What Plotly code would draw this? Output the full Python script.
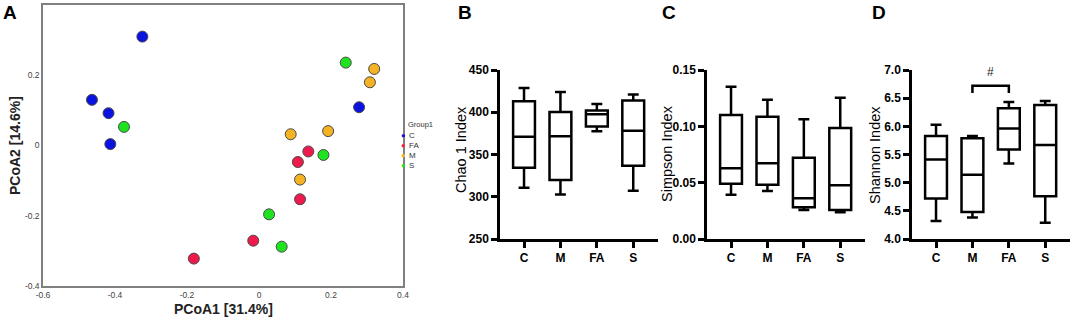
import plotly.graph_objects as go

W, H = 1072, 318

# ---------------- Panel A data (PCoA) ----------------
group_names = ["C", "FA", "M", "S"]
group_colors = ["#0a12e0", "#ee1a4c", "#f5b223", "#1fe31f"]
c_x = [-0.324, -0.464, -0.418, -0.413, 0.278]
c_y = [0.310, 0.130, 0.092, 0.004, 0.109]
fa_x = [-0.181, -0.016, 0.114, 0.108, 0.137]
fa_y = [-0.322, -0.271, -0.153, -0.047, -0.017]
m_x = [0.088, 0.192, 0.114, 0.320, 0.308]
m_y = [0.032, 0.041, -0.097, 0.218, 0.180]
s_x = [-0.375, 0.241, 0.179, 0.028, 0.063]
s_y = [0.053, 0.236, -0.027, -0.196, -0.288]
pcoa_ticks = [-0.6, -0.4, -0.2, 0, 0.2, 0.4]
pcoa_ticktext = ["-0.6", "-0.4", "-0.2", "0", "0.2", "0.4"]

# ---------------- Box panels data ----------------
categories = ["C", "M", "FA", "S"]
cat_pos = [0, 1, 2, 3]

chao_min = [310.6, 302.8, 377.6, 307.0]
chao_q1 = [334.3, 319.7, 383.0, 336.6]
chao_med = [370.9, 371.7, 397.5, 378.0]
chao_q3 = [413.0, 400.4, 402.0, 414.0]
chao_max = [428.7, 424.0, 409.8, 421.0]

simpson_min = [0.0393, 0.0426, 0.0257, 0.0237]
simpson_q1 = [0.0491, 0.0482, 0.0281, 0.0257]
simpson_med = [0.0627, 0.0672, 0.0361, 0.0476]
simpson_q3 = [0.1101, 0.1086, 0.0722, 0.0985]
simpson_max = [0.1352, 0.1237, 0.1062, 0.1254]

shannon_min = [4.32, 4.38, 5.34, 4.29]
shannon_q1 = [4.72, 4.48, 5.59, 4.76]
shannon_med = [5.41, 5.14, 5.96, 5.67]
shannon_q3 = [5.83, 5.79, 6.32, 6.38]
shannon_max = [6.03, 5.83, 6.43, 6.45]

chao_ticks = [250, 300, 350, 400, 450]
simpson_ticks = [0.00, 0.05, 0.10, 0.15]
shannon_ticks = [4.0, 4.5, 5.0, 5.5, 6.0, 6.5, 7.0]

# significance bracket (M vs FA)
sig_from, sig_to = 1, 2
sig_low, sig_high = 6.59, 6.72
sig_label_y = 6.96


def px(x):
    return x / W


def py(y):
    return 1 - y / H


FONT = "Liberation Sans, Arial, sans-serif"
fig = go.Figure()

# Panel A scatter
for name, col, xs, ys in zip(group_names, group_colors,
                             [c_x, fa_x, m_x, s_x], [c_y, fa_y, m_y, s_y]):
    fig.add_trace(go.Scatter(
        x=xs, y=ys, mode="markers", name=name, showlegend=False,
        marker=dict(size=11, color=col, line=dict(color="#4a4a4a", width=1)),
        xaxis="x", yaxis="y"))

# Box panels
box_sets = [
    ("x2", "y2", chao_min, chao_q1, chao_med, chao_q3, chao_max),
    ("x3", "y3", simpson_min, simpson_q1, simpson_med, simpson_q3, simpson_max),
    ("x4", "y4", shannon_min, shannon_q1, shannon_med, shannon_q3, shannon_max),
]
for xa, ya, lo, q1, med, q3, hi in box_sets:
    fig.add_trace(go.Box(
        x=cat_pos, q1=q1, median=med, q3=q3, lowerfence=lo, upperfence=hi,
        width=0.6, whiskerwidth=0.5, boxpoints=False,
        line=dict(color="black", width=2.5), fillcolor="white",
        showlegend=False, xaxis=xa, yaxis=ya))

tick_font_a = dict(family=FONT, size=8.5, color="#444444")
layout = dict(
    width=W, height=H, margin=dict(l=0, r=0, t=0, b=0, autoexpand=False),
    paper_bgcolor="white", plot_bgcolor="white",
    font=dict(family=FONT, color="black"),
    showlegend=False,
    xaxis=dict(domain=[px(43), px(403)], range=[-0.6, 0.4], anchor="y",
               showgrid=False, zeroline=False, showline=True, mirror=True,
               linecolor="#808080", linewidth=1.5, ticks="", automargin=False,
               tickvals=pcoa_ticks, ticktext=pcoa_ticktext, tickfont=tick_font_a),
    yaxis=dict(domain=[py(286), py(5)], range=[-0.4, 0.4], anchor="x",
               showgrid=False, zeroline=False, showline=True, mirror=True,
               linecolor="#808080", linewidth=1.5, ticks="", automargin=False,
               tickvals=[-0.4, -0.2, 0, 0.2, 0.4],
               ticktext=["-0.4", "-0.2", "0", "0.2", "0.4"], tickfont=tick_font_a),
)

box_y_domain = [py(239), py(70)]
x_domains = [[px(500), px(658)], [px(707), px(865)], [px(912), px(1070)]]
y_specs = [
    dict(range=[250, 450], tickvals=chao_ticks, ticktext=[str(t) for t in chao_ticks]),
    dict(range=[0, 0.15], tickvals=simpson_ticks, ticktext=["%.2f" % t for t in simpson_ticks]),
    dict(range=[4, 7], tickvals=shannon_ticks, ticktext=["%.1f" % t for t in shannon_ticks]),
]
bold_tick = dict(family=FONT, size=12, color="black", weight="bold")
for i, (xd, ys) in enumerate(zip(x_domains, y_specs)):
    n = i + 2
    layout["xaxis%d" % n] = dict(
        domain=xd, range=[-0.66, 3.68], anchor="y%d" % n, automargin=False,
        showgrid=False, zeroline=False, showline=True, linecolor="black",
        linewidth=2.5, ticks="outside", ticklen=6, tickwidth=2.5, tickcolor="black",
        tickvals=cat_pos, ticktext=categories, tickfont=bold_tick)
    layout["yaxis%d" % n] = dict(
        domain=box_y_domain, anchor="x%d" % n, automargin=False,
        showgrid=False, zeroline=False, showline=True, linecolor="black",
        linewidth=2.5, ticks="outside", ticklen=6, tickwidth=2.5, tickcolor="black",
        tickfont=bold_tick, **ys)

fig.update_layout(**layout)

ann = []
# panel letters
for letter, x in [("A", 10), ("B", 465), ("C", 669), ("D", 879)]:
    ann.append(dict(text=letter, x=px(x), y=py(13), xref="paper", yref="paper",
                    showarrow=False, xanchor="center", yanchor="middle",
                    font=dict(family=FONT, size=19, color="black", weight="bold")))
# Panel A axis titles
ann.append(dict(text="PCoA1 [31.4%]", x=px(223), y=py(309), xref="paper", yref="paper",
                showarrow=False, xanchor="center", yanchor="middle",
                font=dict(family=FONT, size=14, color="#222222", weight="bold")))
ann.append(dict(text="PCoA2 [14.6%]", x=px(15), y=py(146), xref="paper", yref="paper",
                showarrow=False, xanchor="center", yanchor="middle", textangle=-90,
                font=dict(family=FONT, size=14, color="#222222", weight="bold")))
# Box panel y titles
for title, x, y in [("Chao 1 Index", 461, 150), ("Simpson Index", 667, 154),
                    ("Shannon Index", 875, 155)]:
    ann.append(dict(text=title, x=px(x), y=py(y), xref="paper", yref="paper",
                    showarrow=False, xanchor="center", yanchor="middle", textangle=-90,
                    font=dict(family=FONT, size=14.5, color="black")))
# Legend for panel A
ann.append(dict(text="Group1", x=px(406), y=py(124), xref="paper", yref="paper",
                showarrow=False, xanchor="left", yanchor="middle",
                font=dict(family=FONT, size=7.5, color="#333333")))
for k, (name, col) in enumerate(zip(group_names, group_colors)):
    yy = 135 + 10 * k
    ann.append(dict(text="●", x=px(403), y=py(yy), xref="paper", yref="paper",
                    showarrow=False, xanchor="center", yanchor="middle",
                    font=dict(family=FONT, size=7.5, color=col)))
    ann.append(dict(text=name, x=px(406.5), y=py(yy), xref="paper", yref="paper",
                    showarrow=False, xanchor="left", yanchor="middle",
                    font=dict(family=FONT, size=8, color="#333333")))
# significance marker
ann.append(dict(text="#", x=(sig_from + sig_to) / 2, y=sig_label_y, xref="x4", yref="y4",
                showarrow=False, xanchor="center", yanchor="middle",
                font=dict(family=FONT, size=12, color="#222222")))
fig.update_layout(annotations=ann)

fig.add_shape(type="path",
              path="M %g,%g L %g,%g L %g,%g L %g,%g" % (sig_from, sig_low, sig_from, sig_high,
                                                     sig_to, sig_high, sig_to, sig_low),
              xref="x4", yref="y4", line=dict(color="black", width=2.5))

fig.write_html("out.html", config={"displayModeBar": False},
               post_script="document.body.style.margin='0';"
                           "document.body.style.overflow='hidden';")
